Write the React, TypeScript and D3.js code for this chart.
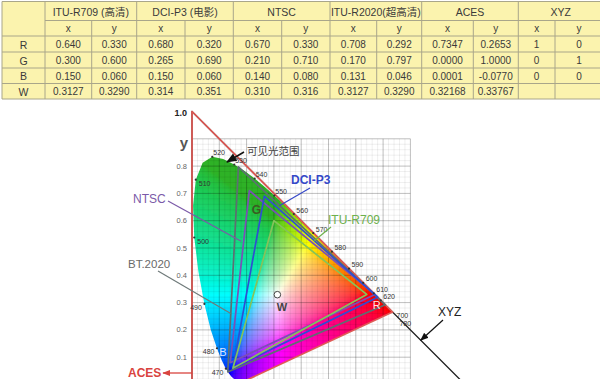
import React from "react";
import * as d3 from "d3";

// ---------------- Data ----------------
const gamutNames = ["ITU-R709 (高清)", "DCI-P3 (电影)", "NTSC", "ITU-R2020(超高清)", "ACES", "XYZ"];
const primaryNames = ["R", "G", "B", "W"];
const axisNames = ["x", "y"];

const rec709X = ["0.640", "0.300", "0.150", "0.3127"];
const rec709Y = ["0.330", "0.600", "0.060", "0.3290"];
const p3X = ["0.680", "0.265", "0.150", "0.314"];
const p3Y = ["0.320", "0.690", "0.060", "0.351"];
const ntscX = ["0.670", "0.210", "0.140", "0.310"];
const ntscY = ["0.330", "0.710", "0.080", "0.316"];
const rec2020X = ["0.708", "0.170", "0.131", "0.3127"];
const rec2020Y = ["0.292", "0.797", "0.046", "0.3290"];
const acesX = ["0.7347", "0.0000", "0.0001", "0.32168"];
const acesY = ["0.2653", "1.0000", "-0.0770", "0.33767"];
const xyzX = ["1", "0", "0", ""];
const xyzY = ["0", "1", "0", ""];

// CIE 1931 2° spectral locus
const locusWavelengths = [380, 400, 420, 440, 450, 460, 465, 470, 475, 480, 485, 490, 495, 500, 505, 510, 515, 520, 525, 530, 535, 540, 545, 550, 555, 560, 565, 570, 575, 580, 585, 590, 595, 600, 605, 610, 620, 630, 640, 650, 660, 680, 700];
const locusX = [0.1741, 0.1733, 0.1714, 0.1644, 0.1566, 0.1440, 0.1355, 0.1241, 0.1096, 0.0913, 0.0687, 0.0454, 0.0235, 0.0082, 0.0039, 0.0139, 0.0389, 0.0743, 0.1142, 0.1547, 0.1929, 0.2296, 0.2658, 0.3016, 0.3373, 0.3731, 0.4087, 0.4441, 0.4788, 0.5125, 0.5448, 0.5752, 0.6029, 0.6270, 0.6482, 0.6658, 0.6915, 0.7079, 0.7190, 0.7260, 0.7300, 0.7334, 0.7347];
const locusY = [0.0050, 0.0048, 0.0051, 0.0109, 0.0177, 0.0297, 0.0399, 0.0578, 0.0868, 0.1327, 0.2007, 0.2950, 0.4127, 0.5384, 0.6548, 0.7502, 0.8120, 0.8338, 0.8262, 0.8059, 0.7816, 0.7543, 0.7243, 0.6923, 0.6589, 0.6245, 0.5896, 0.5547, 0.5202, 0.4866, 0.4544, 0.4242, 0.3965, 0.3725, 0.3514, 0.3340, 0.3083, 0.2920, 0.2809, 0.2740, 0.2700, 0.2666, 0.2653];
const labeledWavelengths = [470, 480, 490, 500, 510, 520, 530, 540, 550, 560, 570, 580, 590, 600, 610, 620];
const yTickValues = [0.1, 0.2, 0.3, 0.4, 0.5, 0.6, 0.7, 0.8];

// ---------------- Layout ----------------
const W = 600, H = 379;
const colEdges = [2, 45, 91.7, 136.7, 185, 233.3, 281.7, 330, 376.7, 421.7, 473.3, 518.3, 555, 603];
const rowEdges = [1.5, 20.5, 36, 52, 68, 83.5, 99];
const tableBg = "#fbf3ae";
const tableLine = "#a9a68a";
const tableText = "#3a3a3a";
const latin = "'Liberation Sans', Arial, sans-serif";
const cjk = "'Liberation Sans', 'Noto Sans CJK SC', sans-serif";

const gamutStyles = {
  xyz: { color: "#1e1e1e", width: 1.3 },
  aces: { color: "#e05a55", width: 1.7 },
  rec2020: { color: "#5d6f72", width: 1.7 },
  ntsc: { color: "#7b4fb8", width: 1.7 },
  p3: { color: "#2f4fd2", width: 1.7 },
  rec709: { color: "#85c35a", width: 1.7 },
};

function xyToRgb(cx: number, cy: number): string {
  const yy = Math.max(cy, 0.004);
  const X = cx / yy, Y = 1, Z = (1 - cx - yy) / yy;
  let r = 3.2406 * X - 1.5372 * Y - 0.4986 * Z;
  let g = -0.9689 * X + 1.8758 * Y + 0.0415 * Z;
  let b = 0.0557 * X - 0.204 * Y + 1.057 * Z;
  r = Math.max(0, r); g = Math.max(0, g); b = Math.max(0, b);
  const m = Math.max(r, g, b) || 1;
  r /= m; g /= m; b /= m;
  const gam = (v: number) => (v <= 0.0031308 ? 12.92 * v : 1.055 * Math.pow(v, 1 / 2.4) - 0.055);
  let R = gam(r), G = gam(g), B = gam(b);
  // soften saturated greens like the printed diagram
  const greenness = Math.max(0, G - Math.max(R, B));
  const k = 1 - 0.32 * greenness;
  R *= k; G *= k; B *= k;
  const wAdd = 0.18 * greenness;
  R += (1 - R) * wAdd; G += (1 - G) * wAdd * 0.3; B += (1 - B) * wAdd * 0.8;
  return d3.rgb(R * 255, G * 255, B * 255).formatHex();
}

export default function App() {
  const x = d3.scaleLinear().domain([0, 1]).range([192, 465]);
  const y = d3.scaleLinear().domain([0, 1]).range([384.5, 111.5]);

  const locusPts: [number, number][] = locusWavelengths.map((_, i) => [x(locusX[i]), y(locusY[i])]);
  const locusPath = (d3.line()(locusPts) || "") + "Z";

  const cells: { px: number; py: number; c: string }[] = [];
  const step = 3;
  for (let px = 190; px < 400; px += step) {
    for (let py = 150; py < 384; py += step) {
      const cx = x.invert(px + step / 2);
      const cy = y.invert(py + step / 2);
      cells.push({ px, py, c: xyToRgb(Math.max(cx, 0.0005), cy) });
    }
  }

  const tri = (xs: string[], ys: string[]) =>
    (d3.line()([0, 1, 2].map((i) => [x(+xs[i]), y(+ys[i])] as [number, number])) || "") + "Z";

  const gamuts = [
    { key: "xyz", xs: xyzX, ys: xyzY },
    { key: "aces", xs: acesX, ys: acesY },
    { key: "rec2020", xs: rec2020X, ys: rec2020Y },
    { key: "ntsc", xs: ntscX, ys: ntscY },
    { key: "p3", xs: p3X, ys: p3Y },
    { key: "rec709", xs: rec709X, ys: rec709Y },
  ];

  const minorX = d3.range(0, 0.8001, 0.02);
  const minorY = d3.range(0, 0.9001, 0.02);
  const majorX = d3.range(0, 0.8001, 0.1);
  const majorY = d3.range(0, 0.9001, 0.1);

  const tableCols = [
    [rec709X, rec709Y], [p3X, p3Y], [ntscX, ntscY], [rec2020X, rec2020Y], [acesX, acesY], [xyzX, xyzY],
  ];

  const wlIndex = (wl: number) => locusWavelengths.indexOf(wl);

  return (
    <svg width={W} height={H} style={{ position: "absolute", left: 0, top: 0, background: "#fff" }}>
      <defs>
        <clipPath id="locusClip"><path d={locusPath} /></clipPath>
        <clipPath id="plotClip"><rect x={0} y={102} width={W} height={H - 102} /></clipPath>
        <filter id="soft" x="-5%" y="-5%" width="110%" height="110%">
          <feGaussianBlur stdDeviation={1.2} />
        </filter>
        <marker id="arrowBlack" viewBox="0 0 10 10" refX={9} refY={5} markerWidth={7} markerHeight={7} orient="auto">
          <path d="M0,1 L10,5 L0,9 Z" fill="#111" />
        </marker>
        <marker id="arrowRed" viewBox="0 0 10 10" refX={9} refY={5} markerWidth={6} markerHeight={6} orient="auto">
          <path d="M0,1 L10,5 L0,9 Z" fill="#d9443f" />
        </marker>
      </defs>
      <rect width={W} height={H} fill="#fff" />

      {/* ---------- table ---------- */}
      <g>
        <rect x={colEdges[0]} y={rowEdges[0]} width={colEdges[colEdges.length - 1] - colEdges[0]} height={rowEdges[6] - rowEdges[0]} fill={tableBg} />
        {rowEdges.map((ry, i) => (
          <line key={"h" + i} x1={i === 1 ? colEdges[1] : colEdges[0]} x2={colEdges[colEdges.length - 1]} y1={ry} y2={ry} stroke={tableLine} strokeWidth={1} />
        ))}
        {colEdges.map((cx, i) => {
          const isGroup = i <= 1 || (i - 1) % 2 === 0;
          return <line key={"v" + i} x1={cx} x2={cx} y1={isGroup ? rowEdges[0] : rowEdges[1]} y2={rowEdges[6]} stroke={tableLine} strokeWidth={1} />;
        })}
        {gamutNames.map((g, gi) => (
          <text key={g} x={(colEdges[1 + gi * 2] + colEdges[3 + gi * 2]) / 2} y={12} textAnchor="middle" dominantBaseline="central" fontSize={10.5} fontFamily={cjk} fill={tableText}>{g}</text>
        ))}
        {gamutNames.map((g, gi) =>
          axisNames.map((a, ai) => (
            <text key={g + a} x={(colEdges[1 + gi * 2 + ai] + colEdges[2 + gi * 2 + ai]) / 2} y={28.5} textAnchor="middle" dominantBaseline="central" fontSize={10} fontFamily={latin} fill={tableText}>{a}</text>
          ))
        )}
        {primaryNames.map((p, pi) => (
          <g key={p}>
            <text x={(colEdges[0] + colEdges[1]) / 2} y={(rowEdges[2 + pi] + rowEdges[3 + pi]) / 2 + 0.5} textAnchor="middle" dominantBaseline="central" fontSize={10.5} fontFamily={latin} fill={tableText}>{p}</text>
            {tableCols.map((pair, gi) =>
              pair.map((arr, ai) => (
                <text key={gi + "-" + ai} x={(colEdges[1 + gi * 2 + ai] + colEdges[2 + gi * 2 + ai]) / 2} y={(rowEdges[2 + pi] + rowEdges[3 + pi]) / 2 + 0.5} textAnchor="middle" dominantBaseline="central" fontSize={10} fontFamily={latin} fill={tableText}>{arr[pi]}</text>
              ))
            )}
          </g>
        ))}
      </g>

      {/* ---------- chart ---------- */}
      <g clipPath="url(#plotClip)">
        <g clipPath="url(#locusClip)">
          <g filter="url(#soft)">
            {cells.map((c, i) => (
              <rect key={i} x={c.px} y={c.py} width={step + 0.4} height={step + 0.4} fill={c.c} />
            ))}
          </g>
        </g>

        {/* grid */}
        <g>
          {minorX.map((v, i) => (
            <line key={"mx" + i} x1={x(v)} x2={x(v)} y1={y(0)} y2={y(0.9)} stroke="#000" strokeOpacity={0.11} strokeWidth={0.6} />
          ))}
          {minorY.map((v, i) => (
            <line key={"my" + i} x1={x(0)} x2={x(0.8)} y1={y(v)} y2={y(v)} stroke="#000" strokeOpacity={0.11} strokeWidth={0.6} />
          ))}
          {majorX.map((v, i) => (
            <line key={"Mx" + i} x1={x(v)} x2={x(v)} y1={y(0)} y2={y(0.9)} stroke="#000" strokeOpacity={0.25} strokeWidth={0.8} />
          ))}
          {majorY.map((v, i) => (
            <line key={"My" + i} x1={x(0)} x2={x(0.8)} y1={y(v)} y2={y(v)} stroke="#000" strokeOpacity={0.25} strokeWidth={0.8} />
          ))}
        </g>

        {/* gamut triangles */}
        {gamuts.map((g) => {
          const s = (gamutStyles as any)[g.key];
          return <path key={g.key} d={tri(g.xs, g.ys)} fill="none" stroke={s.color} strokeWidth={s.width} strokeLinejoin="round" />;
        })}

        {/* wavelength markers */}
        {labeledWavelengths.map((wl) => {
          const i = wlIndex(wl);
          const px = x(locusX[i]), py = y(locusY[i]);
          let tx = px + 1, ty = py - 1.5, anchor = "start";
          if (wl <= 490) { tx = px - 2.5; ty = py + 6; anchor = "end"; }
          else if (wl <= 510) { tx = px + 3; ty = py + 6; anchor = "start"; }
          else if (wl >= 560) { tx = px + 2.5; ty = py - 1.5; }
          return (
            <g key={wl}>
              <circle cx={px} cy={py} r={1.1} fill="#333" />
              <text x={tx} y={ty} textAnchor={anchor} fontSize={7} fontFamily={latin} fill="#333">{wl}</text>
            </g>
          );
        })}
        <text x={x(0.7347) + 4} y={y(0.2653) + 6} fontSize={7} fontFamily={latin} fill="#333">700</text>
        <text x={x(0.7347) + 7} y={y(0.2653) + 14} fontSize={7} fontFamily={latin} fill="#333">780</text>

        {/* primaries labels */}
        <text x={x(+p3X[1]) - 8} y={y(+p3Y[1]) + 14} textAnchor="middle" dominantBaseline="central" fontSize={12} fontWeight="bold" fontFamily={latin} fill="#3b5a22">G</text>
        <text x={x(+p3X[2]) - 10} y={y(+p3Y[2]) - 16} textAnchor="middle" dominantBaseline="central" fontSize={11} fontFamily={latin} fill="#dfe4ff">B</text>
        <text x={x(+p3X[0]) - 1} y={y(+p3Y[0]) + 8} textAnchor="middle" dominantBaseline="central" fontSize={11} fontFamily={latin} fill="#ffe4e4">R</text>
        <circle cx={x(+rec709X[3])} cy={y(+rec709Y[3])} r={3.3} fill="#fff" stroke="#444" strokeWidth={1} />
        <text x={x(+rec709X[3]) + 4.5} y={y(+rec709Y[3]) + 12} textAnchor="middle" dominantBaseline="central" fontSize={11} fontWeight="bold" fontFamily={latin} fill="#444">W</text>

        {/* axis */}
        <text x={x(0) - 5} y={y(1.0) + 1} textAnchor="end" dominantBaseline="central" fontSize={9} fontWeight="bold" fontFamily={latin} fill="#222">1.0</text>
        <text x={x(0) - 8} y={y(0.9) + 4} textAnchor="middle" dominantBaseline="central" fontSize={15} fontWeight="bold" fontFamily={latin} fill="#555">y</text>
        {yTickValues.map((v) => (
          <text key={v} x={x(0) - 5} y={y(v)} textAnchor="end" dominantBaseline="central" fontSize={7.5} fontFamily={latin} fill="#666">{d3.format(".1f")(v)}</text>
        ))}

        {/* annotations */}
        <text x={247} y={151} dominantBaseline="central" fontSize={10.5} fontFamily={cjk} fill="#444">可见光范围</text>
        <line x1={244} y1={152} x2={227} y2={162} stroke="#111" strokeWidth={1.5} markerEnd="url(#arrowBlack)" />

        <text x={291} y={180} dominantBaseline="central" fontSize={12} fontWeight="bold" fontFamily={latin} fill="#3548c8">DCI-P3</text>
        <line x1={310} y1={188} x2={x(0.32)} y2={y(0.655)} stroke="#3548c8" strokeWidth={1.2} />

        <text x={328} y={220} dominantBaseline="central" fontSize={12} fontFamily={latin} fill="#6db04c">ITU-R709</text>
        <line x1={331} y1={227} x2={314} y2={241} stroke="#6db04c" strokeWidth={1.2} />

        <text x={133} y={199} dominantBaseline="central" fontSize={12} fontFamily={latin} fill="#7b5aa8">NTSC</text>
        <line x1={168} y1={201} x2={x(0.18)} y2={y(0.525)} stroke="#7b5aa8" strokeWidth={1.2} />

        <text x={128} y={264} dominantBaseline="central" fontSize={11.5} fontFamily={latin} fill="#6a6a6a">BT.2020</text>
        <line x1={158} y1={271} x2={x(0.142)} y2={y(0.26)} stroke="#6f7a7a" strokeWidth={1.2} />

        <text x={128} y={373} dominantBaseline="central" fontSize={12} fontWeight="bold" fontFamily={latin} fill="#d9443f">ACES</text>
        <line x1={x(0)} y1={373} x2={163} y2={373} stroke="#d9443f" strokeWidth={1.3} markerEnd="url(#arrowRed)" />

        <text x={438} y={312} dominantBaseline="central" fontSize={12} fontFamily={latin} fill="#222">XYZ</text>
        <line x1={443} y1={320} x2={x(0.838)} y2={y(0.162)} stroke="#111" strokeWidth={1.2} markerEnd="url(#arrowBlack)" />
      </g>
    </svg>
  );
}
